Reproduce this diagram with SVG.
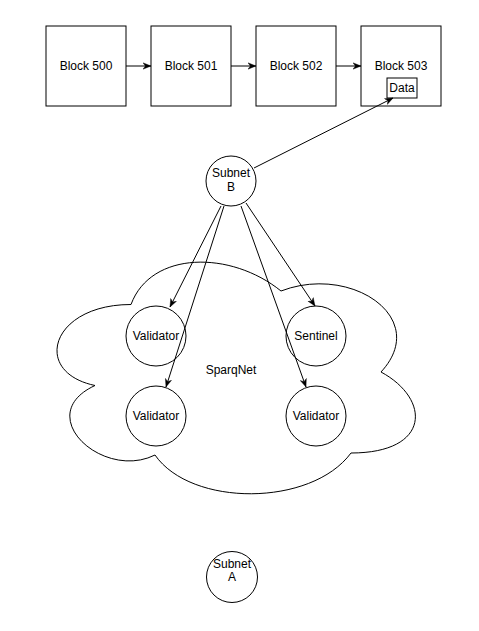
<svg xmlns="http://www.w3.org/2000/svg" width="479" height="631" viewBox="0 0 479 631">
<defs>
<style>
.n{fill:#fff;stroke:#000;stroke-width:1}
.t{font-family:"Liberation Sans",Arial,sans-serif;font-size:12px;fill:#000;text-anchor:middle}
.e{stroke:#000;stroke-width:1;fill:none;marker-end:url(#a)}
</style>
<marker id="a" viewBox="0 0 10 10" refX="10" refY="5" markerWidth="8" markerHeight="8" markerUnits="userSpaceOnUse" orient="auto">
<path d="M0,1 L10,5 L0,9 L3,5 Z" fill="#000" stroke="#000" stroke-width="0.5"/>
</marker>
</defs>
<rect width="479" height="631" fill="#fff"/>
<g id="sparqnet">
<path class="n" d="M131,304.5 C51,304.5 31,372 95,385.5 C31,415.2 103,481 155,455 C191,507 311,507 351,453 C431,453 431,399 381,372 C431,318 351,264 281,291 C231,250.5 151,250.5 131,304.5 Z"/>
<text class="t" x="231" y="374">SparqNet</text>
</g>
<g id="block500"><rect class="n" x="46" y="26" width="80" height="80"/><text class="t" x="86" y="70">Block 500</text></g>
<g id="block501"><rect class="n" x="151" y="26" width="80" height="80"/><text class="t" x="191" y="70">Block 501</text></g>
<g id="block502"><rect class="n" x="256" y="26" width="80" height="80"/><text class="t" x="296" y="70">Block 502</text></g>
<g id="block503"><rect class="n" x="361" y="26" width="80" height="80"/><text class="t" x="401" y="70">Block 503</text></g>
<g id="data"><rect class="n" x="387" y="78" width="30" height="20"/><text class="t" x="402" y="92">Data</text></g>
<g id="subnetB"><circle class="n" cx="231" cy="181" r="25"/><text class="t" x="231" y="177">Subnet</text><text class="t" x="231" y="191">B</text></g>
<g id="validator1"><circle class="n" cx="156" cy="336" r="30"/><text class="t" x="156" y="340">Validator</text></g>
<g id="sentinel"><circle class="n" cx="316" cy="336" r="30"/><text class="t" x="316" y="340">Sentinel</text></g>
<g id="validator2"><circle class="n" cx="156" cy="416" r="30"/><text class="t" x="156" y="420">Validator</text></g>
<g id="validator3"><circle class="n" cx="316" cy="416" r="30"/><text class="t" x="316" y="420">Validator</text></g>
<g id="subnetA"><circle class="n" cx="232" cy="577" r="25.5"/><text class="t" x="232" y="568">Subnet</text><text class="t" x="232" y="581">A</text></g>
<g id="connectors">
<line class="e" x1="126" y1="66" x2="151" y2="66"/>
<line class="e" x1="231" y1="66" x2="256" y2="66"/>
<line class="e" x1="336" y1="66" x2="361" y2="66"/>
<line class="e" x1="254" y1="168" x2="393" y2="98"/>
<line class="e" x1="221" y1="206" x2="170" y2="307"/>
<line class="e" x1="224" y1="206" x2="166" y2="387"/>
<line class="e" x1="241" y1="206" x2="306" y2="387"/>
<line class="e" x1="246" y1="203" x2="315" y2="306"/>
</g>
</svg>
